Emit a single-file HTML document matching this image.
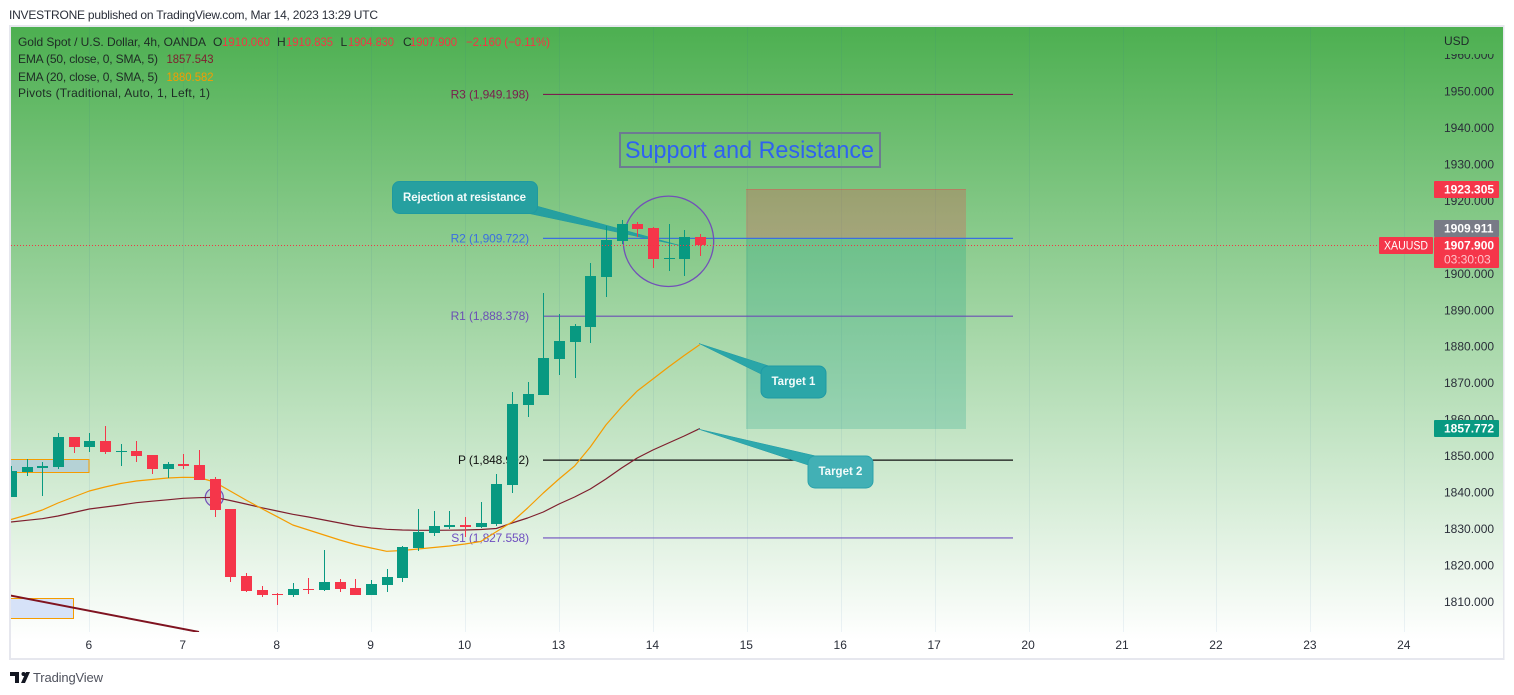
<!DOCTYPE html>
<html>
<head>
<meta charset="utf-8">
<title>XAUUSD Support and Resistance</title>
<style>
html,body{margin:0;padding:0;background:#fff;width:1514px;height:695px;overflow:hidden}
svg{display:block;font-family:"Liberation Sans",sans-serif}
text{white-space:pre}
</style>
</head>
<body>
<svg id="chart" xmlns="http://www.w3.org/2000/svg" width="1514" height="695" viewBox="0 0 1514 695">
  <defs>
    <linearGradient id="bg" gradientUnits="userSpaceOnUse" x1="0" y1="25" x2="0" y2="640">
      <stop offset="0" stop-color="#4caf50"/>
      <stop offset="1" stop-color="#ffffff"/>
    </linearGradient>
    <clipPath id="pane"><rect x="11" y="26" width="1492" height="606"/></clipPath>
  </defs>

  <text x="9" y="19" font-size="12" fill="#2a2e39" textLength="369" lengthAdjust="spacing">INVESTRONE published on TradingView.com, Mar 14, 2023 13:29 UTC</text>

  <rect x="10" y="26" width="1493.5" height="633" fill="#ffffff" stroke="#e6e7ee" stroke-width="2"/>
  <rect x="11" y="27" width="1492" height="631" fill="url(#bg)"/>

  <g id="grid"></g>

  <g clip-path="url(#pane)">
    <rect x="5" y="459.5" width="84" height="13" fill="#b5d2d6" stroke="#f59c00" stroke-width="1"/>
    <rect x="5" y="598.5" width="68.5" height="20" fill="#d6e2f8" stroke="#f59c00" stroke-width="1"/>
    <line x1="5" y1="594.5" x2="199" y2="632" stroke="#7f1320" stroke-width="2"/>

    <rect x="746" y="189" width="220" height="49.3" fill="#f23645" fill-opacity="0.25"/>
    <rect x="746" y="238.3" width="220" height="190.7" fill="#089981" fill-opacity="0.22"/>
    <line x1="746" y1="189.5" x2="966" y2="189.5" stroke="#f23645" stroke-opacity="0.3"/>

    <g id="pivots"></g>

    <circle cx="668.5" cy="241.3" r="45.2" fill="#4caf50" fill-opacity="0.08" stroke="#7250b8" stroke-width="1.3"/>
    <circle cx="214.3" cy="497.3" r="9" fill="#7e57c2" fill-opacity="0.12" stroke="#7250b8" stroke-width="1.2"/>

    <g id="emas"></g>

    <path d="M536.7 206 L680 245.5 L528 213.3 Z" fill="#26a0a0" stroke="#1f9aa0" stroke-width="0.5"/>
    <path d="M769 366 L699 343.5 L761 374 Z" fill="#2aa6a8" stroke="#1f9aa5" stroke-width="0.5"/>
    <path d="M816 456 L698 429 L808 465 Z" fill="#2fa9ad" stroke="#1f9aa5" stroke-width="0.5"/>

    <g id="candles"></g>
  </g>

  <g>
    <rect x="620" y="133" width="260" height="34" fill="none" stroke="#6d7a92" stroke-width="2"/>
    <text x="625" y="158" font-size="24" fill="#2f62f0" textLength="249" lengthAdjust="spacingAndGlyphs">Support and Resistance</text>
  </g>

  <g>
    <rect x="392.5" y="181.5" width="145" height="32" rx="7" fill="#26a0a0" stroke="#1f9aa0"/>
    <text x="403" y="201" font-size="11.5" font-weight="700" fill="#f2fbfa" textLength="123" lengthAdjust="spacing">Rejection at resistance</text>
  </g>
  <g>
    <rect x="761" y="366" width="65" height="32" rx="7" fill="#2aa6a8" stroke="#1f9aa5"/>
    <text x="771.5" y="385" font-size="11.5" font-weight="700" fill="#f2fbfa">Target 1</text>
  </g>
  <g>
    <rect x="808" y="456" width="65" height="32" rx="7" fill="#42b0b5" stroke="#2aa2aa"/>
    <text x="818.5" y="475" font-size="11.5" font-weight="700" fill="#f2fbfa">Target 2</text>
  </g>

  <line x1="11" y1="245.5" x2="1379" y2="245.5" stroke="#f23645" stroke-width="1" stroke-dasharray="1 2"/>

  <g id="yticks"></g>
  <g id="xticks"></g>

  <rect x="1434" y="27" width="69" height="27" fill="url(#bg)"/>
  <text x="1444" y="45" font-size="12" fill="#1f2a2a">USD</text>

  <g font-size="12">
    <text x="18" y="46" fill="#1e2b25" textLength="188" lengthAdjust="spacing">Gold Spot / U.S. Dollar, 4h, OANDA</text>
    <text x="213" y="46" fill="#1e2b25">O</text>
    <text x="222" y="46" fill="#f23645" textLength="48" lengthAdjust="spacingAndGlyphs">1910.060</text>
    <text x="277" y="46" fill="#1e2b25">H</text>
    <text x="286" y="46" fill="#f23645" textLength="47" lengthAdjust="spacingAndGlyphs">1910.835</text>
    <text x="340.5" y="46" fill="#1e2b25">L</text>
    <text x="348" y="46" fill="#f23645" textLength="46" lengthAdjust="spacingAndGlyphs">1904.830</text>
    <text x="403" y="46" fill="#1e2b25">C</text>
    <text x="410" y="46" fill="#f23645" textLength="47" lengthAdjust="spacingAndGlyphs">1907.900</text>
    <text x="466" y="46" fill="#f23645" textLength="84" lengthAdjust="spacingAndGlyphs">−2.160 (−0.11%)</text>
    <text x="18" y="63" fill="#1e2b25" textLength="140" lengthAdjust="spacing">EMA (50, close, 0, SMA, 5)</text>
    <text x="166.5" y="63" fill="#7f2030" textLength="47" lengthAdjust="spacingAndGlyphs">1857.543</text>
    <text x="18" y="81" fill="#1e2b25" textLength="140" lengthAdjust="spacing">EMA (20, close, 0, SMA, 5)</text>
    <text x="166.5" y="81" fill="#f59c00" textLength="47" lengthAdjust="spacingAndGlyphs">1880.582</text>
    <text x="18" y="97" fill="#1e2b25" textLength="192" lengthAdjust="spacing">Pivots (Traditional, Auto, 1, Left, 1)</text>
  </g>

  <g font-size="12" font-weight="700" fill="#ffffff">
    <rect x="1434" y="181" width="65" height="17" rx="1" fill="#f5364a"/>
    <text x="1444" y="193.5" fill="#ffffff">1923.305</text>
    <rect x="1434" y="220" width="65" height="17" rx="1" fill="#787b86"/>
    <text x="1444" y="232.5" fill="#ffffff">1909.911</text>
    <rect x="1379" y="237" width="54" height="17" rx="1" fill="#f5364a"/>
    <text x="1384" y="249.5" font-weight="400" fill="#ffffff" textLength="44" lengthAdjust="spacingAndGlyphs">XAUUSD</text>
    <rect x="1434" y="237" width="65" height="31" rx="1" fill="#f5364a"/>
    <text x="1444" y="249.5" fill="#ffffff">1907.900</text>
    <text x="1444" y="263.5" font-weight="400" fill="#ffc4cb">03:30:03</text>
    <rect x="1434" y="420" width="65" height="17" rx="1" fill="#089981"/>
    <text x="1444" y="432.5" fill="#ffffff">1857.772</text>
  </g>

  <g>
    <path fill="#131722" d="M10 672h9v11h-4v-7h-5z M23.5 672a2 2 0 1 1 0 4 2 2 0 0 1 0-4z M26 672h4l-5 11h-4z"/>
    <text x="33" y="682" font-size="13" fill="#50535e" textLength="70" lengthAdjust="spacing">TradingView</text>
  </g>
</svg>

<script>
// ---- chart data (prices) ----
const dayLabels = ['6','7','8','9','10','13','14','15','16','17','20','21','22','23','24'];
const priceTicks = [1960,1950,1940,1930,1920,1910,1900,1890,1880,1870,1860,1850,1840,1830,1820,1810];
const opens = [1838.79,1845.64,1846.74,1847.02,1855.24,1852.5,1854.15,1851.13,1851.4,1850.31,1846.47,1847.84,1847.56,1843.72,1835.5,1817.12,1813.28,1812.18,1811.91,1813.55,1813.28,1815.48,1813.83,1811.91,1814.65,1816.57,1824.8,1828.91,1830.56,1831.11,1830.56,1831.38,1842.08,1864.02,1866.76,1876.64,1881.3,1885.41,1899.13,1909,1913.66,1912.57,1904.06,1904.06,1910.06];
const highs = [1847.29,1849.21,1848.39,1856.34,1855.24,1856.34,1858.26,1853.32,1854.15,1850.31,1848.39,1850.58,1851.68,1844.27,1835.5,1817.94,1814.38,1812.46,1815.2,1816.57,1824.25,1816.3,1816.3,1816.02,1819.04,1825.35,1835.5,1834.95,1834.95,1833.3,1837.42,1845.1,1867.59,1870.33,1894.74,1888.98,1886.24,1902.97,1913.11,1914.76,1914.21,1912.84,1913.66,1912.02,1910.835];
const lows = [1838.79,1844.55,1839.06,1846.47,1850.86,1851.13,1850.58,1847.29,1848.39,1845.1,1844,1846.47,1843.45,1833.3,1815.48,1812.73,1811.36,1809.17,1811.36,1812.18,1813.01,1812.73,1811.91,1811.91,1812.73,1815.48,1823.98,1828.09,1830.01,1827.82,1830.29,1830.83,1839.89,1860.73,1866.76,1872.25,1871.43,1881.03,1893.64,1908.18,1910.1,1901.6,1900.77,1899.4,1904.83];
const closes = [1845.92,1847.02,1847.29,1855.24,1852.5,1854.15,1851.13,1851.4,1850.03,1846.47,1847.84,1847.29,1843.45,1835.22,1816.85,1813.01,1811.91,1811.91,1813.55,1813.28,1815.48,1813.55,1811.91,1814.93,1816.85,1825.07,1829.19,1830.83,1831.11,1830.56,1831.66,1842.35,1864.29,1867.04,1876.91,1881.57,1885.69,1899.4,1909.28,1913.66,1912.29,1904.06,1904.34,1910.1,1907.9];
const ema20 = [1832.62,1833.85,1835.22,1837.14,1838.79,1840.43,1841.53,1842.49,1843.18,1843.59,1844,1844.19,1844.14,1842.9,1840.43,1837.96,1835.63,1833.38,1831.11,1829.74,1828.37,1826.99,1825.76,1824.8,1823.9,1824.11,1824.53,1824.94,1825.35,1825.9,1826.58,1829.27,1831.93,1835.77,1839.89,1843.72,1847.29,1852.5,1858.54,1863.47,1867.86,1871.15,1874.44,1877.6,1880.58];
const ema50 = [1831.93,1832.4,1832.84,1833.58,1834.54,1835.5,1836.05,1836.59,1837.23,1837.64,1838.02,1838.43,1838.6,1838.71,1837.83,1836.87,1835.85,1834.95,1834.04,1833.3,1832.48,1831.66,1830.83,1830.29,1829.93,1829.74,1829.65,1829.65,1829.68,1829.74,1829.87,1830.15,1831.66,1833.03,1834.67,1836.87,1838.79,1840.98,1843.72,1846.74,1849.48,1851.68,1853.6,1855.52,1857.54];
const pivotNames = ['R3','R2','R1','P','S1'];
const pivotValues = [1949.198,1909.722,1888.378,1848.902,1827.558];
const pivotLabels = ['1,949.198','1,909.722','1,888.378','1,848.902','1,827.558'];

// ---- axis functions ----
const NS = 'http://www.w3.org/2000/svg';
function yScale(p){ return 91.5 + (1950 - p) * 3.646; }
function xSlot(s){ return 89.3 + 93.93 * s; }
function xCandle(i){ return xSlot((i - 5) / 6); }
function make(tag, parent, attrs){
  const el = document.createElementNS(NS, tag);
  for (const k in attrs) el.setAttribute(k, attrs[k]);
  parent.appendChild(el);
  return el;
}

// ---- grid and time axis ----
const gridG = document.getElementById('grid');
const xG = document.getElementById('xticks');
dayLabels.forEach(function(d, s){
  const x = Math.round(xSlot(s)) + 0.5;
  const ln = make('line', gridG, {x1:x, x2:x, y1:27, y2:632, stroke:'#2a6aa0', 'stroke-opacity':0.08});
  
  
  const t = make('text', xG, {x:xSlot(s) - 0.5, y:649, 'font-size':12, 'text-anchor':'middle', fill:'#2a2e39'});
  
  
  t.textContent = d;
});

// ---- price axis ----
const yG = document.getElementById('yticks');
priceTicks.forEach(function(p){
  const t = make('text', yG, {x:1444, y:yScale(p) + 4, 'font-size':12, fill:'#2a2e39'});
  
  
  t.textContent = p.toFixed(3);
});

// ---- pivots ----
const pivotColors = ['#7b1e4f','#3b6fe0','#6b4fb5','#111111','#6f4fc0'];
const pG = document.getElementById('pivots');
pivotNames.forEach(function(n, i){
  const y = yScale(pivotValues[i]);
  const ln = make('line', pG, {x1:543, x2:1013, y1:y, y2:y, stroke:pivotColors[i], 'stroke-width':1.2});
  
  
  const t = make('text', pG, {x:529, y:y + 4, 'font-size':12, 'letter-spacing':-0.12, 'text-anchor':'end', fill:pivotColors[i]});
  
  
  t.textContent = n + ' (' + pivotLabels[i] + ')';
});

// ---- EMA lines ----
const eG = document.getElementById('emas');
function emaPath(values){
  return values.map(function(v, i){ return (i ? 'L' : 'M') + xCandle(i).toFixed(1) + ' ' + yScale(v).toFixed(1); }).join(' ');
}
const line50 = make('path', eG, {d:emaPath(ema50), fill:'none', stroke:'#7f1f2e', 'stroke-width':1.2, 'stroke-linejoin':'round'});


const line20 = make('path', eG, {d:emaPath(ema20), fill:'none', stroke:'#f59c00', 'stroke-width':1.2, 'stroke-linejoin':'round'});



// ---- candles ----
const cG = document.getElementById('candles');
opens.forEach(function(o, i){
  const c = closes[i];
  const up = c >= o;
  const col = up ? '#089981' : '#f5364a';
  const cx = xCandle(i);
  const px = Math.round(cx);
  const wickTop = Math.round(yScale(highs[i]));
  const wickBottom = Math.round(yScale(lows[i]));
  const wick = make('rect', cG, {x:px, y:wickTop, width:1, height:Math.max(1, wickBottom - wickTop), fill:col});
  
  
  const top = Math.round(yScale(Math.max(o, c)));
  const bottom = Math.round(yScale(Math.min(o, c)));
  const body = make('rect', cG, {x:px - 5, y:top, width:11, height:Math.max(1, bottom - top), fill:col});
  
  
});
</script>
</body>
</html>
